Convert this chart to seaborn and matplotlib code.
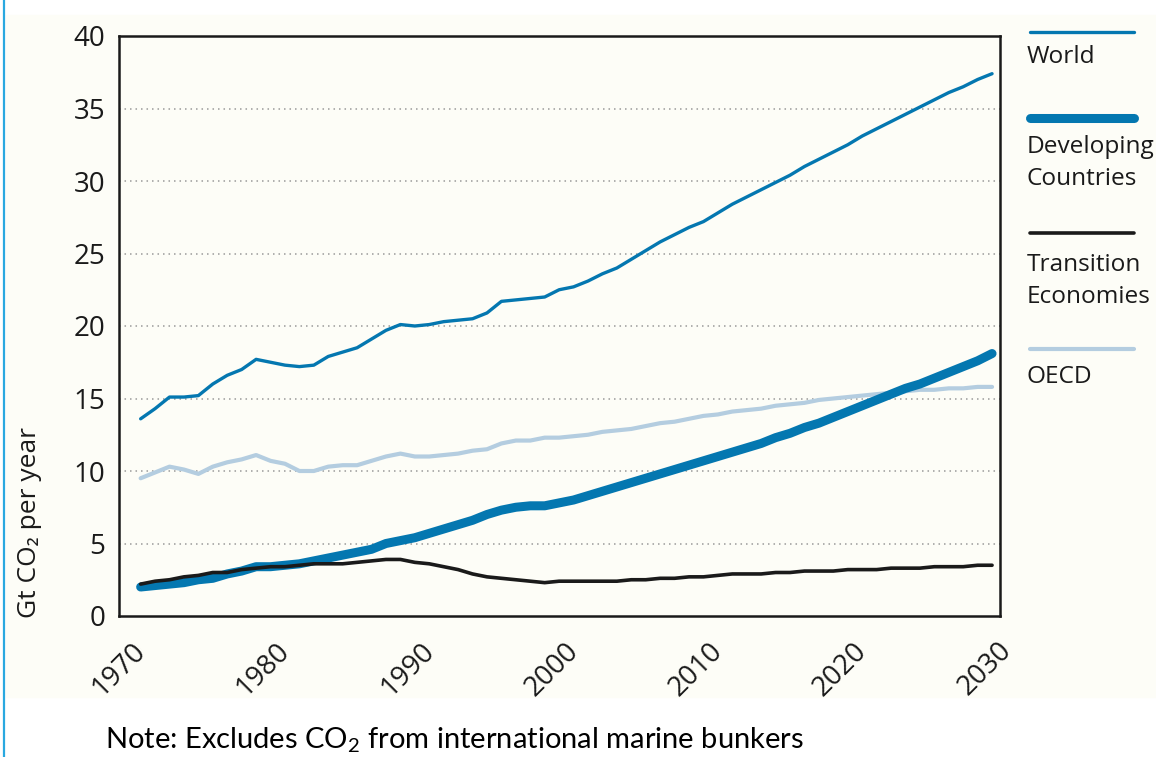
import numpy as np
import pandas as pd
import matplotlib
matplotlib.use("Agg")
import matplotlib.pyplot as plt
from matplotlib.lines import Line2D
from matplotlib.patches import Rectangle
import seaborn as sns

# --- data (Gt CO2 per year) ---
years = list(range(1971, 2031))

world = [13.6, 14.3, 15.1, 15.1, 15.2, 16.0, 16.6, 17.0, 17.7, 17.5,
         17.3, 17.2, 17.3, 17.9, 18.2, 18.5, 19.1, 19.7, 20.1, 20.0,
         20.1, 20.3, 20.4, 20.5, 20.9, 21.7, 21.8, 21.9, 22.0, 22.5,
         22.7, 23.1, 23.6, 24.0, 24.6, 25.2, 25.8, 26.3, 26.8, 27.2,
         27.8, 28.4, 28.9, 29.4, 29.9, 30.4, 31.0, 31.5, 32.0, 32.5,
         33.1, 33.6, 34.1, 34.6, 35.1, 35.6, 36.1, 36.5, 37.0, 37.4]

developing = [2.0, 2.1, 2.2, 2.3, 2.5, 2.6, 2.9, 3.1, 3.4, 3.4,
              3.5, 3.6, 3.8, 4.0, 4.2, 4.4, 4.6, 5.0, 5.2, 5.4,
              5.7, 6.0, 6.3, 6.6, 7.0, 7.3, 7.5, 7.6, 7.6, 7.8,
              8.0, 8.3, 8.6, 8.9, 9.2, 9.5, 9.8, 10.1, 10.4, 10.7,
              11.0, 11.3, 11.6, 11.9, 12.3, 12.6, 13.0, 13.3, 13.7, 14.1,
              14.5, 14.9, 15.3, 15.7, 16.0, 16.4, 16.8, 17.2, 17.6, 18.1]

transition = [2.2, 2.4, 2.5, 2.7, 2.8, 3.0, 3.0, 3.2, 3.3, 3.4,
              3.4, 3.5, 3.6, 3.6, 3.6, 3.7, 3.8, 3.9, 3.9, 3.7,
              3.6, 3.4, 3.2, 2.9, 2.7, 2.6, 2.5, 2.4, 2.3, 2.4,
              2.4, 2.4, 2.4, 2.4, 2.5, 2.5, 2.6, 2.6, 2.7, 2.7,
              2.8, 2.9, 2.9, 2.9, 3.0, 3.0, 3.1, 3.1, 3.1, 3.2,
              3.2, 3.2, 3.3, 3.3, 3.3, 3.4, 3.4, 3.4, 3.5, 3.5]

oecd = [9.5, 9.9, 10.3, 10.1, 9.8, 10.3, 10.6, 10.8, 11.1, 10.7,
        10.5, 10.0, 10.0, 10.3, 10.4, 10.4, 10.7, 11.0, 11.2, 11.0,
        11.0, 11.1, 11.2, 11.4, 11.5, 11.9, 12.1, 12.1, 12.3, 12.3,
        12.4, 12.5, 12.7, 12.8, 12.9, 13.1, 13.3, 13.4, 13.6, 13.8,
        13.9, 14.1, 14.2, 14.3, 14.5, 14.6, 14.7, 14.9, 15.0, 15.1,
        15.2, 15.3, 15.4, 15.5, 15.6, 15.6, 15.7, 15.7, 15.8, 15.8]

x_ticks = [1970, 1980, 1990, 2000, 2010, 2020, 2030]
y_ticks = [0, 5, 10, 15, 20, 25, 30, 35, 40]

BLUE = "#0477b0"
LIGHT = "#b4cde0"
BLACK = "#1a1a1a"
CREAM = "#fdfdf7"

sns.set_style("white")
plt.rcParams["font.family"] = ["Open Sans", "DejaVu Sans"]
plt.rcParams["mathtext.default"] = "regular"

fig = plt.figure(figsize=(11.56, 7.57), dpi=100)
W, H = 1156, 757

# cream panel and blue frame line on the left
fig.patches.append(Rectangle((6 / W, 1 - 697 / H), 1, (697 - 15) / H,
                             transform=fig.transFigure, color=CREAM, zorder=-10))
fig.add_artist(Line2D([4 / W, 4 / W], [0, 1], transform=fig.transFigure,
                      color="#29a8e0", lw=1.6))

ax = fig.add_axes([119 / W, 1 - 616 / H, (1000 - 119) / W, (616 - 36) / H])
ax.set_facecolor(CREAM)

# annual values plotted at mid-year, as in the original
df = pd.DataFrame({"year": [y + 0.5 for y in years], "World": world,
                   "Developing": developing, "Transition": transition,
                   "OECD": oecd})

sns.lineplot(data=df, x="year", y="OECD", ax=ax, color=LIGHT, lw=3.0,
             solid_capstyle="round", zorder=3)
sns.lineplot(data=df, x="year", y="Developing", ax=ax, color=BLUE, lw=6.5,
             solid_capstyle="round", zorder=4)
sns.lineplot(data=df, x="year", y="Transition", ax=ax, color=BLACK, lw=2.6,
             solid_capstyle="round", zorder=5)
sns.lineplot(data=df, x="year", y="World", ax=ax, color=BLUE, lw=2.4,
             solid_capstyle="round", zorder=6)

ax.set_xlim(1970, 2031.05)
ax.set_ylim(0, 40)
ax.set_xticks(x_ticks)
ax.set_xticks([2031.05], minor=True)
ax.set_yticks(y_ticks)
ax.set_xlabel("")
ax.set_ylabel("")

for y in y_ticks[1:-1]:
    ax.axhline(y, color="#9a9a9a", lw=1.1, ls=(0, (1, 2.6)), zorder=1)

for side in ["left", "bottom", "top", "right"]:
    ax.spines[side].set_visible(True)
    ax.spines[side].set_color(BLACK)
    ax.spines[side].set_linewidth(1.8)

ax.tick_params(axis="y", direction="in", length=7, width=1.8, pad=10,
               labelsize=20, colors=BLACK)
ax.tick_params(axis="x", which="both", direction="out", length=9, width=1.6,
               pad=6, labelsize=20, colors=BLACK)
for lab in ax.get_xticklabels():
    lab.set_rotation(45)
    lab.set_ha("center")

fig.text(30 / W, 1 - 522 / H, "Gt CO₂ per year", rotation=90, ha="center",
         va="center", fontsize=19, color=BLACK)

# legend drawn on the right
legend_items = [
    (32, BLUE, 2.4, ["World"], 57),
    (118, BLUE, 6.5, ["Developing", "Countries"], 147),
    (233, BLACK, 2.6, ["Transition", "Economies"], 265),
    (349, LIGHT, 3.0, ["OECD"], 377),
]
for ly, col, lw, labels, ty in legend_items:
    fig.add_artist(Line2D([1030 / W, 1134 / W], [1 - ly / H, 1 - ly / H],
                          transform=fig.transFigure, color=col, lw=lw,
                          solid_capstyle="round"))
    for i, t in enumerate(labels):
        fig.text(1027 / W, 1 - (ty + 32 * i) / H, t, ha="left", va="center",
                 fontsize=17.6, color=BLACK)

fig.text(105 / W, 1 - 740 / H, "Note: Excludes CO$_2$ from international marine bunkers",
         ha="left", va="center", fontsize=21, color="black", family=["Lato", "DejaVu Sans"])

fig.savefig("out.png", dpi=100)
